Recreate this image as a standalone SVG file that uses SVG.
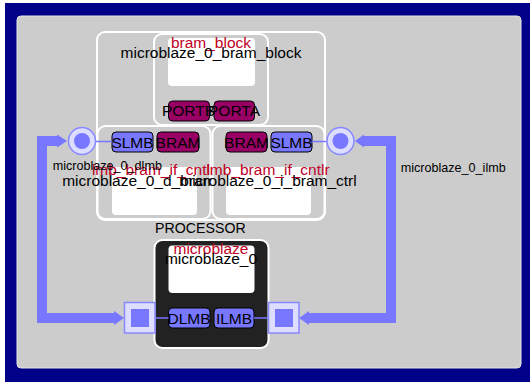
<svg xmlns="http://www.w3.org/2000/svg" width="530" height="382" viewBox="0 0 530 382">
<style>
text{font-family:"Liberation Sans",Arial,sans-serif;}
.lbl{font-size:15.5px;fill:#000;text-anchor:middle;}
.typ{font-size:15.5px;fill:#c00025;text-anchor:middle;}
.bus{font-size:12.6px;fill:#000;}
.box{fill:#cccccc;stroke:#ffffff;stroke-width:2;}
.inner{fill:#ffffff;}
.pb{fill:#990066;stroke:#000;stroke-width:1;}
.pl{fill:#7777ff;stroke:#000;stroke-width:1;}
.wire{stroke:#7777ff;stroke-width:1.5;fill:none;}
.busline{stroke:#7777ff;stroke-width:10;fill:none;stroke-linejoin:miter;}
.arrow{fill:#7777ff;}
.cout{fill:#ddddff;stroke:#8888ff;stroke-width:1.5;}
.cin{fill:#7777ff;}
</style>
<rect x="5" y="3" width="525" height="379" fill="#000088"/>
<rect x="17" y="16" width="504" height="352" rx="4" fill="#cccccc" stroke="#e4e4e4" stroke-width="1"/>

<g id="bram_container">
<rect class="box" x="97" y="32" width="228" height="188" rx="8"/>
</g>

<g id="microblaze_0_bram_block">
<rect class="box" x="154" y="34" width="114" height="91" rx="8"/>
<rect class="inner" x="168" y="38" width="87" height="48" rx="4"/>
<text class="typ" x="211" y="48">bram_block</text>
<text class="lbl" x="211" y="58">microblaze_0_bram_block</text>
<rect class="pb" x="168.5" y="101" width="41" height="20" rx="4"/>
<rect class="pb" x="214" y="101" width="40.5" height="20" rx="4"/>
<text class="lbl" x="188.5" y="115.5">PORTB</text>
<text class="lbl" x="234" y="115.5">PORTA</text>
</g>

<g id="microblaze_0_d_bram_ctrl">
<rect class="box" x="97.5" y="126" width="113" height="93" rx="8"/>
<rect class="inner" x="112" y="167" width="85" height="48" rx="4"/>
<rect class="pl" x="112" y="132" width="41" height="20" rx="4"/>
<rect class="pb" x="157" y="132" width="42" height="20" rx="4"/>
<text class="lbl" x="132.5" y="148">SLMB</text>
<text class="lbl" x="178" y="148">BRAM</text>
<text class="typ" x="153.5" y="175">lmb_bram_if_cntlr</text>
<text class="lbl" x="153.5" y="186">microblaze_0_d_bram_ctrl</text>
</g>

<g id="microblaze_0_i_bram_ctrl">
<rect class="box" x="212.5" y="126" width="112" height="93" rx="8"/>
<rect class="inner" x="226" y="167" width="85" height="48" rx="4"/>
<rect class="pb" x="226" y="132" width="41" height="20" rx="4"/>
<rect class="pl" x="271" y="132" width="41" height="20" rx="4"/>
<text class="lbl" x="246.5" y="148">BRAM</text>
<text class="lbl" x="291.5" y="148">SLMB</text>
<text class="typ" x="268" y="175">lmb_bram_if_cntlr</text>
<text class="lbl" x="268" y="186">microblaze_0_i_bram_ctrl</text>
</g>

<g id="microblaze_0">
<text x="155" y="233" style="font-size:14.2px;fill:#000">PROCESSOR</text>
<rect x="154.5" y="240" width="114" height="108" rx="8" fill="#222222" stroke="#ffffff" stroke-width="2"/>
<rect class="inner" x="168.5" y="245.5" width="86" height="47.5" rx="4"/>
<text class="typ" x="211" y="254">microblaze</text>
<text class="lbl" x="211" y="263.5">microblaze_0</text>
<rect class="pl" x="168.5" y="308" width="41.5" height="20" rx="4"/>
<rect class="pl" x="214" y="308" width="40" height="20" rx="4"/>
<text class="lbl" x="189" y="324">DLMB</text>
<text class="lbl" x="234" y="324">ILMB</text>
</g>

<g id="connectors">
<line class="wire" x1="96" y1="141.5" x2="112" y2="141.5"/>
<line class="wire" x1="312" y1="141.5" x2="326" y2="141.5"/>
<line class="wire" x1="155" y1="318" x2="168.5" y2="318"/>
<line class="wire" x1="254" y1="318" x2="268" y2="318"/>
<path class="busline" d="M58,141 H42 V318 H114"/>
<polygon class="arrow" points="57,134.5 67,141 57,147.5"/>
<polygon class="arrow" points="114,311 124,318 114,325"/>
<path class="busline" d="M364,141 H391 V318 H309"/>
<polygon class="arrow" points="364,134.5 355,141 364,147.5"/>
<polygon class="arrow" points="309,311 299,318 309,325"/>
</g>

<g id="microblaze_0_dlmb">
<circle class="cout" cx="82" cy="141" r="13.5"/>
<circle class="cin" cx="82" cy="141" r="8"/>
<rect class="cout" x="124.5" y="302.5" width="30.5" height="30.5"/>
<rect class="cin" x="131" y="309" width="18" height="18"/>
<text class="bus" x="52.7" y="170">microblaze_0_dlmb</text>
</g>

<g id="microblaze_0_ilmb">
<circle class="cout" cx="340.5" cy="141" r="13.5"/>
<circle class="cin" cx="340.5" cy="141" r="8"/>
<rect class="cout" x="268.5" y="302.5" width="30.5" height="30.5"/>
<rect class="cin" x="275" y="309" width="18" height="18"/>
<text class="bus" x="400.7" y="171.5">microblaze_0_ilmb</text>
</g>
</svg>
